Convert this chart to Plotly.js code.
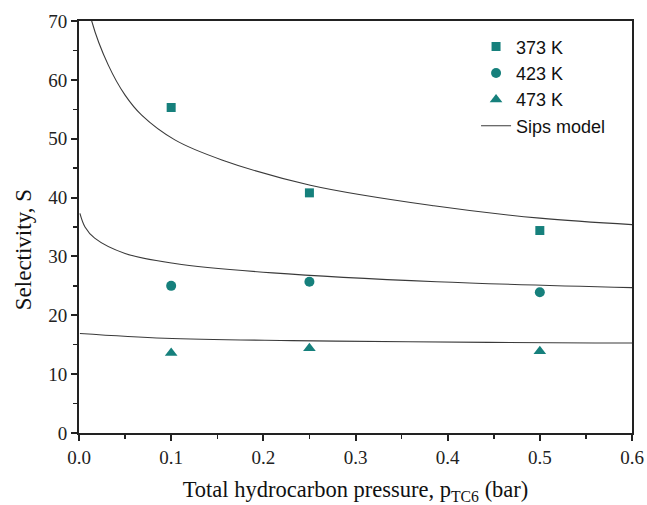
<!DOCTYPE html>
<html>
<head>
<meta charset="utf-8">
<script src="https://cdn.plot.ly/plotly-3.0.1.min.js"></script>
<style>
  html, body { margin: 0; padding: 0; background: #fff; }
  #chart { width: 647px; height: 505px; }
</style>
</head>
<body>
<div id="chart"></div>
<script>
// Measured selectivity at three temperatures
const pressure = [0.1, 0.25, 0.5];
const s373 = [55.3, 40.8, 34.4];
const s423 = [25.0, 25.7, 23.9];
const s473 = [13.6, 14.4, 13.9];

// Sips model curves (sampled points)
const sips373x = [0.012, 0.0138, 0.0318, 0.05, 0.068, 0.104, 0.155, 0.251, 0.385, 0.5, 0.601];
const sips373y = [71.5, 70.0, 62.5, 57.4, 54.0, 49.8, 46.4, 42.1, 38.6, 36.5, 35.4];
const sips423x = [0.001, 0.0065, 0.017, 0.05, 0.104, 0.21, 0.388, 0.601];
const sips423y = [37.3, 35.0, 33.1, 30.5, 28.8, 27.2, 25.7, 24.7];
const sips473x = [0.001, 0.093, 0.231, 0.357, 0.56, 0.601];
const sips473y = [16.9, 16.1, 15.7, 15.5, 15.3, 15.3];

const yTitle = 'Selectivity, S';
const xTitle = 'Total hydrocarbon pressure, p<sub>TC6</sub> (bar)';

const teal = '#16807c';
const lineColor = '#3a3a3a';

const traces = [
  { x: pressure, y: s373, name: '373 K', mode: 'markers', type: 'scatter',
    marker: { symbol: 'square', size: 9, color: teal } },
  { x: pressure, y: s423, name: '423 K', mode: 'markers', type: 'scatter',
    marker: { symbol: 'circle', size: 10, color: teal } },
  { x: pressure, y: s473, name: '473 K', mode: 'markers', type: 'scatter',
    marker: { symbol: 'triangle-up', size: 11, color: teal } },
  { x: sips373x, y: sips373y, name: 'Sips model', mode: 'lines', type: 'scatter',
    line: { color: lineColor, width: 1.1, shape: 'spline' } },
  { x: sips423x, y: sips423y, showlegend: false, mode: 'lines', type: 'scatter',
    line: { color: lineColor, width: 1.1, shape: 'spline' } },
  { x: sips473x, y: sips473y, showlegend: false, mode: 'lines', type: 'scatter',
    line: { color: lineColor, width: 1.1, shape: 'spline' } }
];

const serif = 'Liberation Serif, Times New Roman, serif';

const layout = {
  width: 647, height: 505,
  margin: { l: 79, r: 15, t: 21, b: 72 },
  paper_bgcolor: '#fff', plot_bgcolor: '#fff',
  showlegend: true,
  legend: {
    x: 0.718, y: 0.982, xanchor: 'left', yanchor: 'top',
    bgcolor: 'rgba(0,0,0,0)', borderwidth: 0,
    font: { family: 'Liberation Sans, Arial, sans-serif', size: 18, color: '#111' },
    itemwidth: 30
  },
  xaxis: {
    range: [0, 0.6], dtick: 0.1, tickformat: '.1f',
    showgrid: false, zeroline: false,
    showline: true, linecolor: '#222', linewidth: 2, mirror: true,
    ticks: 'outside', ticklen: 6, tickwidth: 2, tickcolor: '#222',
    minor: { ticks: 'outside', dtick: 0.05, ticklen: 4, tickwidth: 1.5, tickcolor: '#222' },
    tickfont: { family: serif, size: 19, color: '#222' },
    title: { text: xTitle, standoff: 15,
             font: { family: serif, size: 22.5, color: '#111' } }
  },
  yaxis: {
    range: [0, 70], dtick: 10,
    showgrid: false, zeroline: false,
    showline: true, linecolor: '#222', linewidth: 2, mirror: true,
    ticks: 'outside', ticklen: 6, tickwidth: 2, tickcolor: '#222',
    minor: { ticks: 'outside', dtick: 5, ticklen: 4, tickwidth: 1.5, tickcolor: '#222' },
    tickfont: { family: serif, size: 19, color: '#222' }
  },
  annotations: [{
    text: yTitle, textangle: -90, showarrow: false,
    xref: 'paper', yref: 'paper', x: -0.101, y: 0.444,
    xanchor: 'center', yanchor: 'middle',
    font: { family: serif, size: 23, color: '#111' }
  }]
};

Plotly.newPlot('chart', traces, layout, { displayModeBar: false, staticPlot: true });
</script>
</body>
</html>
